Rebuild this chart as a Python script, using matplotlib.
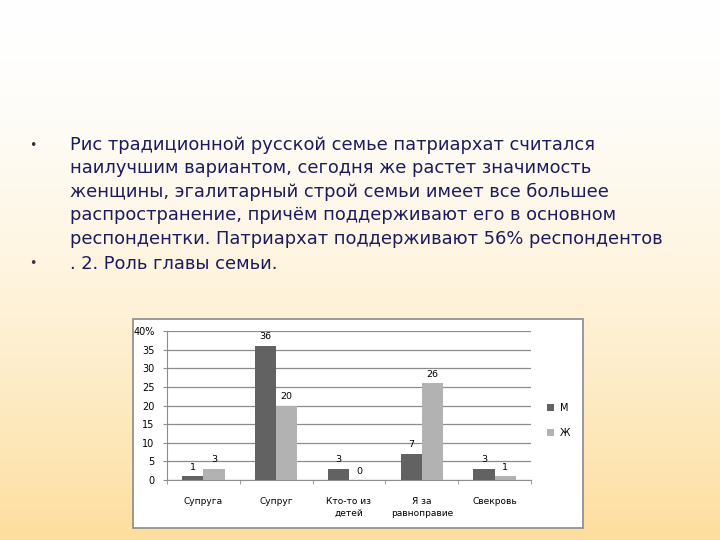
import matplotlib
matplotlib.use("Agg")
import matplotlib.pyplot as plt
import numpy as np
from matplotlib.patches import Rectangle

categories = ["Супруга", "Супруг", "Кто-то из\nдетей", "Я за\nравноправие", "Свекровь"]
men = [1, 36, 3, 7, 3]
women = [3, 20, 0, 26, 1]
series_names = ["М", "Ж"]
yticks = [0, 5, 10, 15, 20, 25, 30, 35, 40]
ytick_labels = ["0", "5", "10", "15", "20", "25", "30", "35", "40%"]

bullet_lines = [
    "Рис традиционной русской семье патриархат считался",
    "наилучшим вариантом, сегодня же растет значимость",
    "женщины, эгалитарный строй семьи имеет все большее",
    "распространение, причём поддерживают его в основном",
    "респондентки. Патриархат поддерживают 56% респондентов",
]
bullet2 = ". 2. Роль главы семьи."

W, H = 720, 540
fig = plt.figure(figsize=(7.2, 5.4), dpi=100)

# background gradient white -> peach
bg = fig.add_axes([0, 0, 1, 1])
bg.set_xlim(0, W)
bg.set_ylim(H, 0)
bg.axis("off")
t = np.linspace(0, 1, 256) ** 1.6
top = np.array([1.0, 1.0, 1.0])
bot = np.array([253, 222, 158]) / 255
grad = top[None, :] * (1 - t[:, None]) + bot[None, :] * t[:, None]
bg.imshow(grad[:, None, :], extent=[0, W, H, 0], aspect="auto", zorder=0)

txt_col = "#1c1c5c"
y0 = 145
dy = 23.4
fs = 12.9
bg.text(33, y0, "•", fontsize=9, color="#333344", va="center", ha="center")
for i, line in enumerate(bullet_lines):
    bg.text(70, y0 + i * dy, line, fontsize=fs, color=txt_col, va="center",
            family="DejaVu Sans")
bg.text(33, y0 + 5 * dy + 2, "•", fontsize=9, color="#333344", va="center", ha="center")
bg.text(70, y0 + 5 * dy + 2, bullet2, fontsize=fs, color=txt_col, va="center",
        family="DejaVu Sans")

# chart frame
bg.add_patch(Rectangle((133, 319), 450, 209, facecolor="white",
                       edgecolor="#8a8a8a", linewidth=1.2, zorder=2))

ax = fig.add_axes([167 / W, 1 - 480 / H, (531 - 167) / W, (480 - 331) / H])
ax.set_facecolor("none")
x = np.arange(len(categories))
bw = 0.29
b1 = ax.bar(x - bw / 2, men, bw, color="#626262", label=series_names[0], zorder=3)
b2 = ax.bar(x + bw / 2, women, bw, color="#b2b2b2", label=series_names[1], zorder=3)
for bars, vals in [(b1, men), (b2, women)]:
    for r, v in zip(bars, vals):
        ax.text(r.get_x() + r.get_width() / 2, v + 1.2, str(v), ha="center",
                va="bottom", fontsize=6.8, color="black")

ax.set_xlim(-0.5, len(categories) - 0.5)
ax.set_ylim(0, 40)
ax.set_yticks(yticks)
ax.set_yticklabels(ytick_labels, fontsize=7)
ax.yaxis.grid(True, color="#8c8c8c", linewidth=0.9, zorder=0)
ax.set_axisbelow(True)
ax.set_xticks(x)
ax.set_xticklabels(categories, fontsize=6.5, linespacing=1.5)
ax.tick_params(axis="x", length=0, pad=12)
ax.set_xticks(np.arange(len(categories) + 1) - 0.5, minor=True)
ax.tick_params(axis="x", which="minor", length=3, color="#8c8c8c")
ax.tick_params(axis="y", length=3, color="#8c8c8c", pad=6)
for s in ["top", "right"]:
    ax.spines[s].set_visible(False)
ax.spines["left"].set_color("#8c8c8c")
ax.spines["bottom"].set_color("#8c8c8c")

leg = ax.legend(loc="center left", bbox_to_anchor=(1.02, 0.4), frameon=False,
                fontsize=7, handlelength=0.7, handleheight=0.7, labelspacing=1.6,
                handletextpad=0.6)

fig.savefig("out.png", dpi=100)
